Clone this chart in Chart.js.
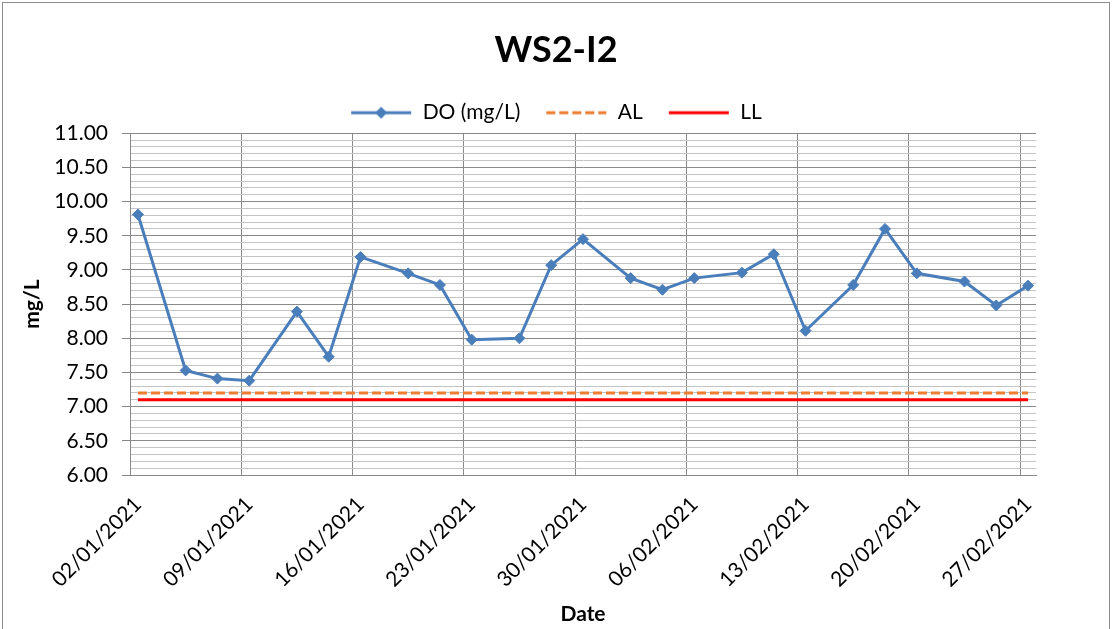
<!DOCTYPE html>
<html>
<head>
<meta charset="utf-8">
<title>WS2-I2</title>
<script src="https://cdn.jsdelivr.net/npm/chart.js@4.4.1/dist/chart.umd.min.js"></script>
<style>
    html, body { margin: 0; padding: 0; background: #fff; overflow: hidden; }
    #wrap { position: relative; width: 1112px; height: 629px; }
    #frame { position: absolute; left: 2px; top: 2px; width: 1108px; height: 700px; border: 1px solid #8c8c8c; box-sizing: border-box; pointer-events: none; }
    canvas { display: block; }
</style>
</head>
<body>
<div id="wrap">
    <canvas id="chart" width="1112" height="629"></canvas>
    <div id="frame"></div>
</div>
<script>
/* ── data ─────────────────────────────────────────────────────────── */
const sampleDates = [
    '02/01/2021', '05/01/2021', '07/01/2021', '09/01/2021', '12/01/2021', '14/01/2021', '16/01/2021',
    '19/01/2021', '21/01/2021', '23/01/2021', '26/01/2021', '28/01/2021', '30/01/2021',
    '02/02/2021', '04/02/2021', '06/02/2021', '09/02/2021', '11/02/2021', '13/02/2021',
    '16/02/2021', '18/02/2021', '20/02/2021', '23/02/2021', '25/02/2021', '27/02/2021'
];
const doValues = [
    9.81, 7.53, 7.41, 7.38, 8.39, 7.73, 9.19,
    8.95, 8.78, 7.98, 8.00, 9.07, 9.45,
    8.88, 8.71, 8.88, 8.96, 9.23, 8.11,
    8.78, 9.60, 8.95, 8.83, 8.48, 8.77
];
const alLimit = 7.2;
const llLimit = 7.1;
const tickLabels = ['02/01/2021', '09/01/2021', '16/01/2021', '23/01/2021', '30/01/2021',
                    '06/02/2021', '13/02/2021', '20/02/2021', '27/02/2021'];

/* ── helpers ──────────────────────────────────────────────────────── */
const DAY = 86400000;
const toUtc = s => { const [d, m, y] = s.split('/').map(Number); return Date.UTC(y, m - 1, d); };
const t0 = toUtc(sampleDates[0]);
const dayIdx = s => Math.round((toUtc(s) - t0) / DAY);
const sampleDays = sampleDates.map(dayIdx);
const tickDays = tickLabels.map(dayIdx);
const lastDay = sampleDays[sampleDays.length - 1];

const BLUE = '#4a7ebb', ORANGE = '#ed7d31', RED = '#ff0000';
const GRID_MAJ = '#898989', GRID_MIN = '#c4c4c4';
const isMajor = v => Math.abs(v * 2 - Math.round(v * 2)) < 1e-6;

// legend glyphs: line (+ diamond) like the spreadsheet legend
function legendIcon(color, dash, marker) {
    const c = document.createElement('canvas');
    c.width = 62; c.height = 14;
    const g = c.getContext('2d');
    g.strokeStyle = color; g.lineWidth = 3; g.setLineDash(dash);
    g.beginPath(); g.moveTo(1, 7); g.lineTo(61, 7); g.stroke();
    if (marker) {
        g.setLineDash([]); g.fillStyle = color;
        g.beginPath(); g.moveTo(31, 1); g.lineTo(37, 7); g.lineTo(31, 13); g.lineTo(25, 7); g.closePath(); g.fill();
    }
    return c;
}
const icons = [legendIcon(BLUE, [], true), legendIcon(ORANGE, [9, 4], false), legendIcon(RED, [], false)];

Chart.defaults.font.family = "Lato, 'Open Sans', sans-serif";
Chart.defaults.font.size = 21;
Chart.defaults.color = '#000';

new Chart(document.getElementById('chart'), {
    type: 'line',
    data: {
        datasets: [
            {
                label: 'DO (mg/L)', xAxisID: 'x', yAxisID: 'y',
                data: sampleDays.map((d, i) => ({ x: d, y: doValues[i] })),
                borderColor: BLUE, backgroundColor: BLUE, borderWidth: 3,
                pointStyle: 'rectRot', pointRadius: 5.5, pointBorderWidth: 1, pointHoverRadius: 5.5,
                tension: 0
            },
            {
                label: 'AL', xAxisID: 'x', yAxisID: 'y',
                data: sampleDays.map(d => ({ x: d, y: alLimit })),
                borderColor: ORANGE, borderWidth: 3, borderDash: [9, 4], pointRadius: 0
            },
            {
                label: 'LL', xAxisID: 'x', yAxisID: 'y',
                data: sampleDays.map(d => ({ x: d, y: llLimit })),
                borderColor: RED, borderWidth: 3, pointRadius: 0
            }
        ]
    },
    options: {
        responsive: false, animation: false,
        layout: { padding: 0 },
        plugins: {
            title: { display: true, text: 'WS2-I2', font: { size: 36, weight: 'bold' }, padding: { top: 29, bottom: 5 } },
            legend: {
                position: 'top',
                labels: {
                    usePointStyle: true, pointStyleWidth: 62, padding: 25,
                    generateLabels: chart => chart.data.datasets.map((ds, i) => ({
                        text: ds.label, pointStyle: icons[i], datasetIndex: i,
                        fillStyle: 'transparent', strokeStyle: 'transparent', lineWidth: 0, fontColor: '#000', hidden: false
                    }))
                }
            },
            tooltip: { enabled: false }
        },
        scales: {
            x: {
                type: 'linear', position: 'bottom', min: -0.5, max: lastDay + 0.5,
                afterBuildTicks: s => { s.ticks = tickDays.map(v => ({ value: v })); },
                afterFit: s => { s.height = 154; },
                ticks: { autoSkip: false, minRotation: 45, maxRotation: 45, padding: 9,
                         callback: (v, i) => tickLabels[i] },
                grid: { display: false },
                border: { display: true, color: GRID_MAJ },
                title: { display: true, text: 'Date', font: { size: 21, weight: 'bold' }, padding: { top: 0, bottom: 2 } }
            },
            xg: {
                type: 'linear', position: 'bottom', min: -0.5, max: lastDay + 0.5,
                afterBuildTicks: s => { s.ticks = tickDays.map(v => ({ value: v - 0.5 })); },
                ticks: { display: false },
                grid: { color: GRID_MAJ, drawTicks: false },
                border: { display: false }
            },
            y: {
                min: 6, max: 11,
                afterFit: s => { s.width = 130; },
                ticks: { stepSize: 0.1, autoSkip: false, padding: 14,
                         callback: v => isMajor(v) ? v.toFixed(2) : '' },
                grid: {
                    color: c => isMajor(c.tick.value) ? GRID_MAJ : GRID_MIN,
                    tickColor: c => isMajor(c.tick.value) ? GRID_MAJ : 'transparent',
                    tickLength: 8
                },
                border: { color: GRID_MAJ },
                title: { display: true, text: 'mg/L', font: { size: 21, weight: 'bold' }, padding: { top: 20, bottom: 0 } }
            },
            // empty right margin so the title and legend centre on the full frame
            yr: {
                position: 'right', min: 6, max: 11,
                afterFit: s => { s.width = 76; },
                ticks: { display: false },
                grid: { display: false },
                border: { display: false }
            }
        }
    }
});
</script>
</body>
</html>
